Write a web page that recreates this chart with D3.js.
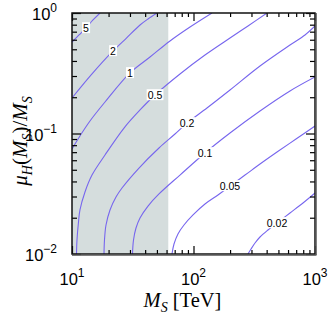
<!DOCTYPE html>
<html><head><meta charset="utf-8">
<script src="https://cdn.jsdelivr.net/npm/d3@7/dist/d3.min.js"></script>
<style>body{margin:0;background:#fff}svg{display:block}</style>
</head><body>
<svg id="chart" width="328" height="322"></svg>
<script>
// ---- data ----
const xDomain = [10, 1000];
const yDomain = [0.01, 1];
const xTickExps = [1, 2, 3];
const yTickExps = [0, -1, -2];
const shadeRange = [10, 62];
const levels = [5, 2, 1, 0.5, 0.2, 0.1, 0.05, 0.02];
const c5 = [[10,0.574],[11.42,0.657],[13.04,0.751],[14.89,0.875],[17.0,1.0]];
const c2 = [[10,0.197],[14.61,0.312],[21.75,0.484],[27.8,0.614],[36.3,0.795],[42.2,0.892],[50.1,1.0]];
const c1 = [[10,0.0744],[11.63,0.0954],[14.06,0.127],[18.69,0.1825],[30.0,0.318],[43.85,0.431],[64.06,0.586],[93.6,0.765],[142,1.0]];
const c05 = [[10.89,0.01],[10.99,0.01307],[11.31,0.01843],[11.63,0.0232],[12.79,0.0327],[14.61,0.0452],[18.69,0.0663],[26.79,0.111],[36.28,0.1567],[48.2,0.2087],[77.4,0.3118],[124.3,0.448],[199.7,0.620],[280.9,0.780],[402.6,1.0]];
const c02 = [[18.34,0.01],[18.51,0.01307],[19.05,0.0174],[20.55,0.0232],[23.02,0.0297],[25.79,0.0353],[35.6,0.0517],[52.0,0.0758],[70.4,0.099],[88.4,0.1222],[129.1,0.1628],[199.7,0.2296],[352.6,0.3633],[622.6,0.5428],[827.5,0.657],[1000,0.780]];
const c01 = [[31.47,0.01],[32.08,0.01307],[33.63,0.01643],[36.28,0.0199],[42.22,0.025],[52.0,0.0315],[77.4,0.0452],[124.3,0.0689],[199.7,0.1009],[352.6,0.1537],[622.6,0.2253],[1000,0.2944]];
const c005 = [[66.5,0.01],[69.1,0.0121],[74.5,0.01466],[83.5,0.0174],[99.1,0.0211],[124.3,0.026],[159.1,0.0309],[199.7,0.0367],[265.4,0.0452],[352.6,0.0558],[486.7,0.0702],[697.6,0.090],[1000,0.1154]];
const c002 = [[280.9,0.01],[297.4,0.011],[320.8,0.01234],[352.6,0.01384],[410.4,0.01582],[486.7,0.0181],[622.6,0.0219],[796.6,0.0265],[1000,0.0321]];
const labelText = ["5", "2", "1", "0.5", "0.2", "0.1", "0.05", "0.02"];
const labelPos = [[13.04,0.751],[21.75,0.484],[30.0,0.318],[48.2,0.2087],[88.4,0.1222],[124.3,0.0689],[199.7,0.0367],[486.7,0.0181]];

const contours = [c5, c2, c1, c05, c02, c01, c005, c002].map((pts, i) => ({level: levels[i], pts}));

// ---- layout ----
const W = 328, H = 322;
const m = {left: 72, top: 13, right: 13, bottom: 68};
const iw = W - m.left - m.right, ih = H - m.top - m.bottom;
const svg = d3.select("#chart");
const g = svg.append("g").attr("transform", `translate(${m.left},${m.top})`);
const x = d3.scaleLog().domain(xDomain).range([0, iw]);
const y = d3.scaleLog().domain(yDomain).range([ih, 0]);

g.append("defs").append("clipPath").attr("id", "clip")
  .append("rect").attr("width", iw).attr("height", ih);

// shaded region
g.append("rect")
  .attr("x", x(shadeRange[0])).attr("y", 0)
  .attr("width", x(shadeRange[1]) - x(shadeRange[0])).attr("height", ih)
  .attr("fill", "#d5dddd");

// contour lines
const line = d3.line().x(d => x(d[0])).y(d => y(d[1])).curve(d3.curveCatmullRom.alpha(0.5));
g.append("g").attr("clip-path", "url(#clip)").selectAll("path").data(contours).join("path")
  .attr("d", d => line(d.pts)).attr("fill", "none")
  .attr("stroke", "#7766ee").attr("stroke-width", 1.1);

// contour labels
const lg = g.append("g").selectAll("g").data(labelText).join("g")
  .attr("transform", (d, i) => `translate(${x(labelPos[i][0])},${y(labelPos[i][1])})`);
lg.append("text").text(d => d)
  .attr("text-anchor", "middle").attr("dy", "0.35em")
  .attr("font-family", "Liberation Sans, Arial, sans-serif").attr("font-size", 10.5)
  .attr("fill", "#000")
  .each(function() {
    const b = this.getBBox();
    d3.select(this.parentNode).insert("rect", "text")
      .attr("x", b.x - 1).attr("y", b.y + 0.5).attr("width", b.width + 2).attr("height", b.height - 1)
      .attr("fill", "#fff");
  });

// axes with inward ticks
const xMinor = [], yMinor = [];
for (let e = 1; e < 3; e++) for (let k = 2; k <= 9; k++) xMinor.push(k * Math.pow(10, e));
for (let e = -2; e < 0; e++) for (let k = 2; k <= 9; k++) yMinor.push(k * Math.pow(10, e));
const xMajor = xTickExps.map(e => Math.pow(10, e));
const yMajor = yTickExps.map(e => Math.pow(10, e));

function tickAxis(axisFn, scale, vals, size) {
  return axisFn(scale).tickValues(vals).tickSize(size).tickFormat("");
}
const axG = g.append("g").attr("class", "axes");
axG.append("g").attr("transform", `translate(0,${ih})`).call(tickAxis(d3.axisBottom, x, xMinor, -4));
axG.append("g").attr("transform", `translate(0,${ih})`).call(tickAxis(d3.axisBottom, x, xMajor, -8));
axG.append("g").call(tickAxis(d3.axisTop, x, xMinor, -4));
axG.append("g").call(tickAxis(d3.axisTop, x, xMajor, -8));
axG.append("g").call(tickAxis(d3.axisLeft, y, yMinor, -5));
axG.append("g").call(tickAxis(d3.axisLeft, y, yMajor, -9));
axG.append("g").attr("transform", `translate(${iw},0)`).call(tickAxis(d3.axisRight, y, yMinor, -5));
axG.append("g").attr("transform", `translate(${iw},0)`).call(tickAxis(d3.axisRight, y, yMajor, -9));
axG.selectAll(".domain").remove();
axG.selectAll(".tick line").attr("stroke", "#000").attr("stroke-width", 1.2);

// frame
g.append("rect").attr("width", iw).attr("height", ih).attr("fill", "none")
  .attr("stroke", "#111").attr("stroke-width", 1.5);
g.append("line").attr("x1", iw + 1).attr("x2", iw + 1).attr("y1", 0).attr("y2", ih + 1)
  .attr("stroke", "#555").attr("stroke-width", 1.5);
g.append("line").attr("x1", 0).attr("x2", iw + 1.5).attr("y1", ih + 1).attr("y2", ih + 1)
  .attr("stroke", "#555").attr("stroke-width", 1.5);

// tick labels
const sans = "Liberation Sans, Arial, sans-serif";
const xl = g.append("g").selectAll("text").data(xTickExps).join("text")
  .attr("x", d => x(Math.pow(10, d))).attr("y", ih + 31)
  .attr("text-anchor", "middle").attr("font-family", sans).attr("font-size", 16.5);
xl.append("tspan").text("10");
xl.append("tspan").text(d => d).attr("dy", -8).attr("font-size", 12);

const yl = g.append("g").selectAll("text").data(yTickExps).join("text")
  .attr("x", -15).attr("y", d => y(Math.pow(10, d)) + 7)
  .attr("text-anchor", "end").attr("font-family", sans).attr("font-size", 16.5);
yl.append("tspan").text("10");
yl.append("tspan").text(d => d === 0 ? "0" : "\u2212" + Math.abs(d)).attr("dy", -8).attr("font-size", 12);

// axis titles
const serif = "Liberation Serif, Times New Roman, serif";
const xt = svg.append("text").attr("x", m.left + iw / 2 - 11).attr("y", 307)
  .attr("text-anchor", "middle").attr("font-family", serif).attr("font-size", 20.5);
xt.append("tspan").text("M").attr("font-style", "italic");
xt.append("tspan").text("S").attr("font-style", "italic").attr("font-size", 14).attr("dy", 5);
xt.append("tspan").text(" [TeV]").attr("dy", -5);

const yt = svg.append("text").attr("transform", "translate(27,141) rotate(-90)")
  .attr("text-anchor", "middle").attr("font-family", serif).attr("font-size", 21);
yt.append("tspan").text("\u03bc").attr("font-style", "italic");
yt.append("tspan").text("H").attr("font-style", "italic").attr("font-size", 14).attr("dy", 5);
yt.append("tspan").text("(").attr("dy", -5);
yt.append("tspan").text("M").attr("font-style", "italic");
yt.append("tspan").text("S").attr("font-style", "italic").attr("font-size", 14).attr("dy", 5);
yt.append("tspan").text(")/").attr("dy", -5);
yt.append("tspan").text("M").attr("font-style", "italic");
yt.append("tspan").text("S").attr("font-style", "italic").attr("font-size", 14).attr("dy", 5);
</script>
</body></html>
